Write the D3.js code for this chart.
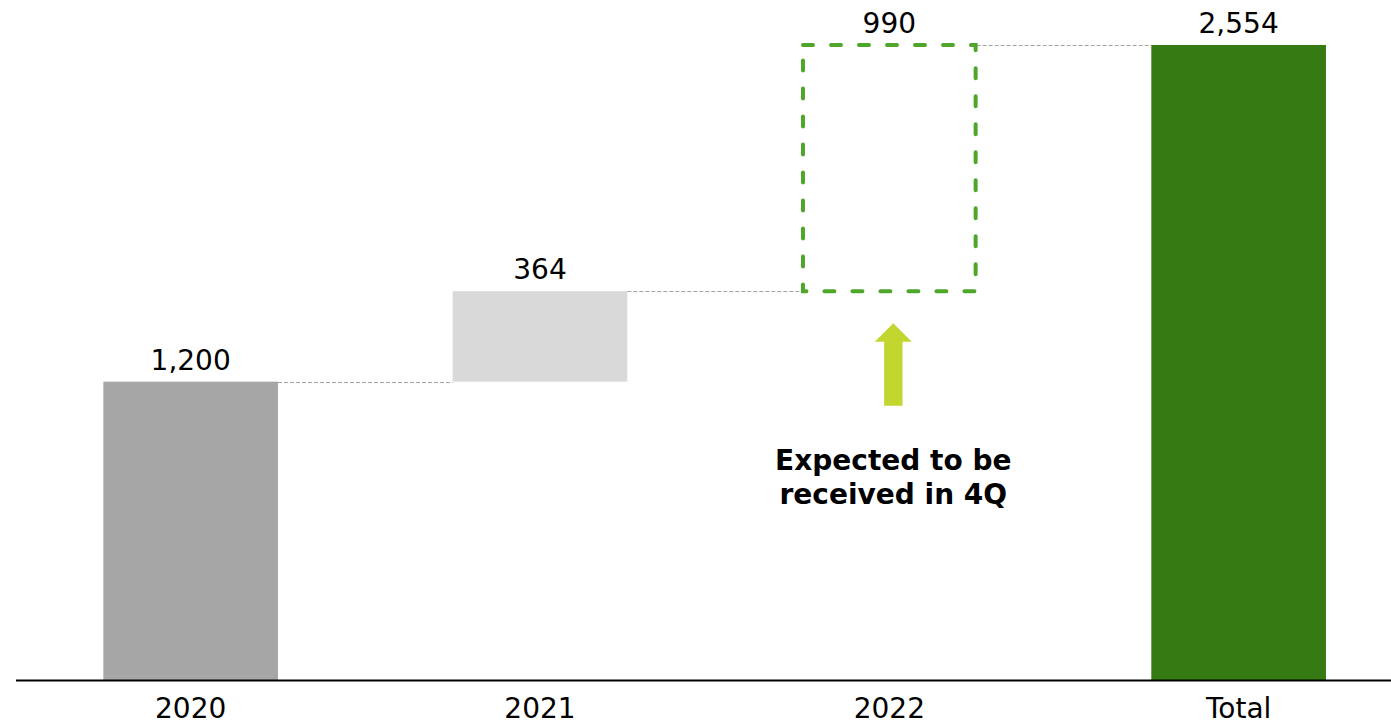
<!DOCTYPE html>
<html>
<head>
<meta charset="utf-8">
<script src="https://cdn.jsdelivr.net/npm/d3@7"></script>
<style>
  html, body { margin: 0; padding: 0; background: #fff; }
  svg { display: block; font-family: "DejaVu Sans", Verdana, sans-serif; }
</style>
</head>
<body>
<svg id="chart" width="1391" height="726"></svg>
<script>
// Waterfall: yearly amounts building up to the total
const categories = ["2020", "2021", "2022", "Total"];
const amounts = [1200, 364, 990, 2554];
const kinds = ["step", "step", "expected", "total"];
const valueLabels = ["1,200", "364", "990", "2,554"];
const noteLines = ["Expected to be", "received in 4Q"];

const W = 1391, H = 726;
const baseY = 680, topY = 45;
const svg = d3.select("#chart");

const x = d3.scaleBand()
  .domain(categories)
  .range([16, 1413.3])
  .paddingInner(0.5)
  .paddingOuter(0.25);

const y = d3.scaleLinear()
  .domain([0, amounts[amounts.length - 1]])
  .range([baseY, topY]);

// running start/end of each step
let running = 0;
const segs = categories.map((c, i) => {
  let start, end;
  if (kinds[i] === "total") { start = 0; end = amounts[i]; }
  else { start = running; end = running + amounts[i]; running = end; }
  return { cat: c, start, end, kind: kinds[i], label: valueLabels[i] };
});

const fills = { step0: "#A6A6A6", step1: "#D9D9D9", total: "#367A13" };

// connector lines between consecutive bars
svg.append("g").selectAll("line")
  .data(segs.slice(0, -1))
  .join("line")
  .attr("x1", d => x(d.cat) + x.bandwidth())
  .attr("x2", (d, i) => x(segs[i + 1].cat))
  .attr("y1", d => Math.round(y(d.end)) + 0.5)
  .attr("y2", d => Math.round(y(d.end)) + 0.5)
  .attr("stroke", "#A6A6A6")
  .attr("stroke-width", 1)
  .attr("stroke-dasharray", "4,2");

// solid bars
svg.append("g").selectAll("rect")
  .data(segs.filter(d => d.kind !== "expected"))
  .join("rect")
  .attr("x", d => x(d.cat))
  .attr("width", x.bandwidth())
  .attr("y", d => y(d.end))
  .attr("height", d => y(d.start) - y(d.end))
  .attr("fill", (d, i) => d.kind === "total" ? fills.total : fills["step" + i]);

// expected amount: dashed outline only
const exp = segs.filter(d => d.kind === "expected");
svg.append("g").selectAll("rect")
  .data(exp)
  .join("rect")
  .attr("x", d => x(d.cat) + 1)
  .attr("width", x.bandwidth() - 2)
  .attr("y", d => y(d.end))
  .attr("height", d => y(d.start) - y(d.end))
  .attr("fill", "none")
  .attr("stroke", "#4EA72A")
  .attr("stroke-width", 4)
  .attr("stroke-linecap", "round")
  .attr("stroke-dasharray", "10,18");

// value labels
svg.append("g").selectAll("text")
  .data(segs)
  .join("text")
  .attr("x", d => x(d.cat) + x.bandwidth() / 2)
  .attr("y", d => y(d.end) - 12)
  .attr("text-anchor", "middle")
  .attr("font-size", 28)
  .attr("fill", "#000")
  .text(d => d.label);

// baseline and category labels
svg.append("line")
  .attr("x1", 16).attr("x2", W)
  .attr("y1", baseY + 0.5).attr("y2", baseY + 0.5)
  .attr("stroke", "#000").attr("stroke-width", 2);

const xAxis = d3.axisBottom(x).tickSize(0).tickPadding(0);
const axisG = svg.append("g")
  .attr("transform", `translate(0,${baseY})`)
  .call(xAxis);
axisG.select(".domain").remove();
axisG.selectAll("text")
  .attr("font-family", "DejaVu Sans, Verdana, sans-serif")
  .attr("font-size", 28)
  .attr("fill", "#000")
  .attr("dy", null)
  .attr("y", 38);

// upward arrow and note beneath the expected bar
const e = exp[0];
const cx = x(e.cat) + x.bandwidth() / 2 + 4;
const tipY = y(e.start) + 32;
const headY = tipY + 18.5, tailY = tipY + 82.5;
const headHalf = 18.5, shaftHalf = 9.2;
svg.append("path")
  .attr("d", d3.line()([
    [cx, tipY], [cx + headHalf, headY], [cx + shaftHalf, headY],
    [cx + shaftHalf, tailY], [cx - shaftHalf, tailY], [cx - shaftHalf, headY],
    [cx - headHalf, headY]
  ]) + "Z")
  .attr("fill", "#C2D62F");

svg.append("text")
  .attr("x", cx)
  .attr("text-anchor", "middle")
  .attr("font-size", 28)
  .attr("font-weight", "bold")
  .attr("fill", "#000")
  .selectAll("tspan")
  .data(noteLines)
  .join("tspan")
  .attr("x", cx)
  .attr("y", (d, i) => 470 + i * 34)
  .text(d => d);
</script>
</body>
</html>
